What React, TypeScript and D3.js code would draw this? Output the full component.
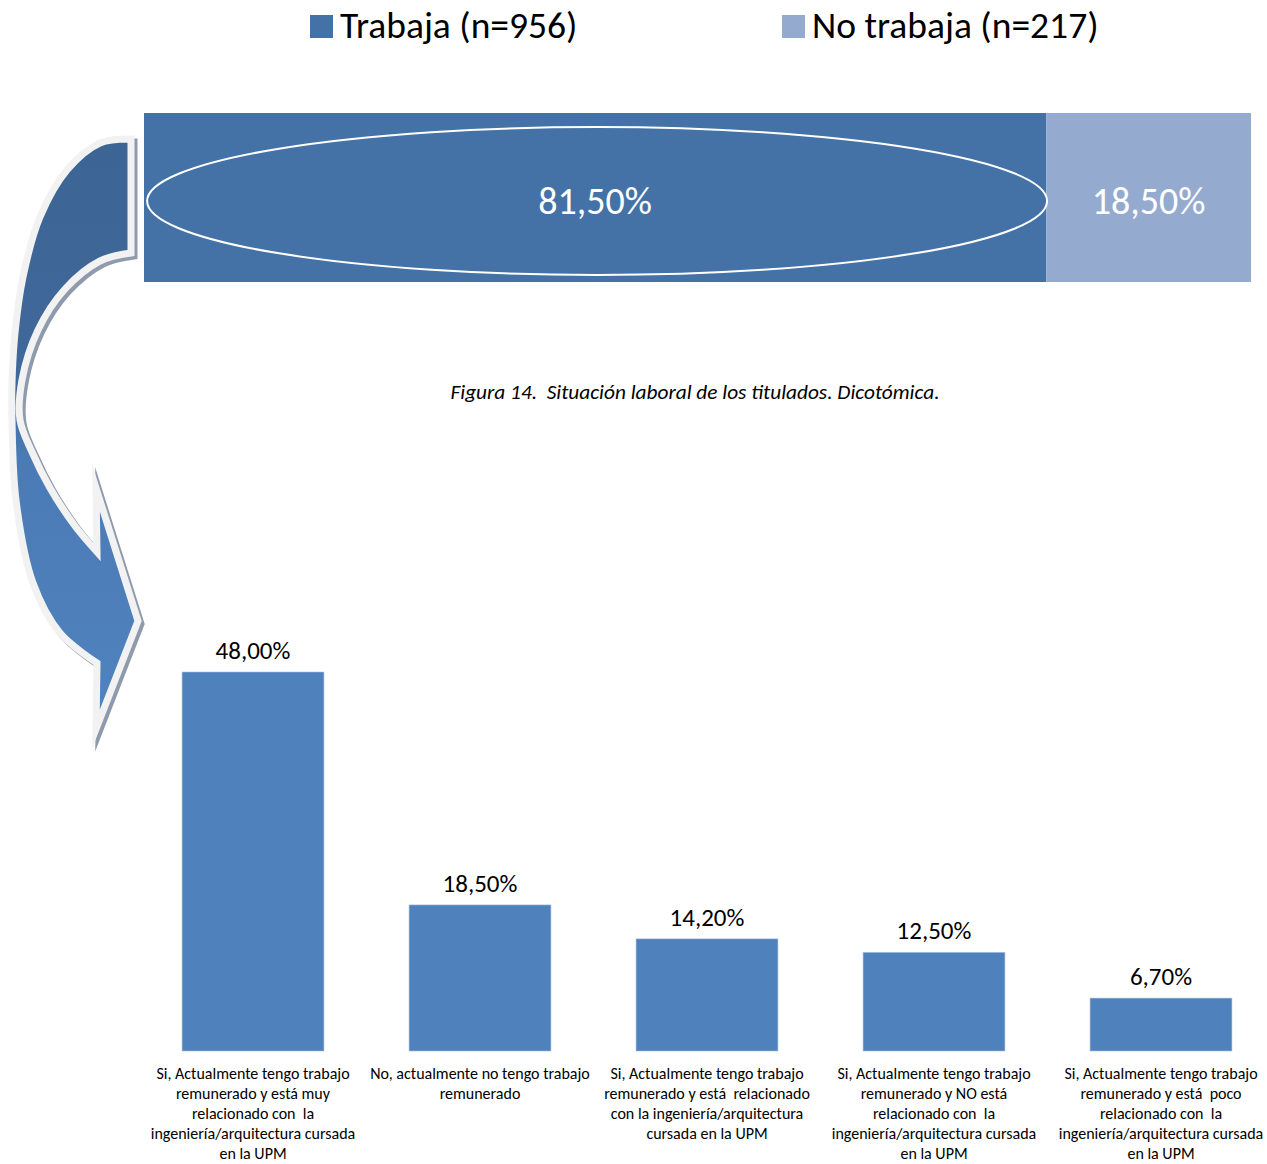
import React from "react";
import * as d3 from "d3";

const topCategories = ["Trabaja (n=956)", "No trabaja (n=217)"];
const topValues = [81.5, 18.5];
const topColors = ["#4472A6", "#95AACF"];

const bottomCategories = [
  "Si, Actualmente tengo trabajo\nremunerado y está muy\nrelacionado con  la\ningeniería/arquitectura cursada\nen la UPM",
  "No, actualmente no tengo trabajo\nremunerado",
  "Si, Actualmente tengo trabajo\nremunerado y está  relacionado\ncon la ingeniería/arquitectura\ncursada en la UPM",
  "Si, Actualmente tengo trabajo\nremunerado y NO está\nrelacionado con  la\ningeniería/arquitectura cursada\nen la UPM",
  "Si, Actualmente tengo trabajo\nremunerado y está  poco\nrelacionado con  la\ningeniería/arquitectura cursada\nen la UPM",
];
const bottomValues = [48.0, 18.5, 14.2, 12.5, 6.7];

const caption = "Figura 14.  Situación laboral de los titulados. Dicotómica.";

const W = 1267;
const H = 1164;
const FONT = "Carlito, Calibri, Lato, 'Open Sans', sans-serif";

const fmt = (v: number) => v.toFixed(2).replace(".", ",") + "%";

// decorative curved arrow outline
const outerPts: [number, number][] = [
  [131, 139], [100, 143], [67, 170], [40, 217], [23, 277], [15, 333], [12, 383],
  [12, 420], [16, 500], [33, 583], [60, 633], [97, 663],
];
const innerPts: [number, number][] = [
  [97, 552], [75, 526], [50, 488], [32, 452], [20, 420], [22, 380], [38, 330],
  [65, 289], [100, 261], [131, 253],
];

function arrowPath(): string {
  const line = d3.line().curve(d3.curveCatmullRom.alpha(0.5));
  const outer = line(outerPts) as string;
  const inner = (line(innerPts) as string).replace(/^M/, "L");
  return outer + " L96,729 L138,621 L96,488 " + inner + " Z";
}

export default function App() {
  const xTop = d3.scaleLinear().domain([0, 100]).range([144, 1251]);
  const topY0 = 113;
  const topY1 = 282;
  const cum = d3.cumsum(topValues);
  const segs = topValues.map((v, i) => ({
    x0: xTop(cum[i] - v),
    x1: xTop(cum[i]),
    v,
    c: topColors[i],
  }));

  const xb = d3
    .scaleBand<string>()
    .domain(bottomCategories)
    .range([139.5, 1274.5])
    .paddingInner(0.375)
    .paddingOuter(0.1875);
  const yb = d3.scaleLinear().domain([0, 48]).range([1051, 672]);

  const legendX = [310, 782];
  const d = arrowPath();

  return (
    <svg
      width={W}
      height={H}
      style={{ position: "absolute", left: 0, top: 0, background: "#fff" }}
      fontFamily={FONT}
    >
      <defs>
        <linearGradient id="arrowGrad" gradientUnits="userSpaceOnUse" x1="0" y1="130" x2="0" y2="760">
          <stop offset="0" stopColor="#3C6494" />
          <stop offset="0.42" stopColor="#40699B" />
          <stop offset="0.52" stopColor="#4B7BB5" />
          <stop offset="1" stopColor="#5083C0" />
        </linearGradient>
      </defs>

      {/* legend */}
      {topCategories.map((c, i) => (
        <g key={c}>
          <rect x={legendX[i]} y={15} width={23} height={23} fill={topColors[i]} />
          <text x={legendX[i] + 30} y={38} fontSize={37.5} fill="#000">
            {c}
          </text>
        </g>
      ))}

      {/* arrow */}
      <path d={d} transform="translate(3,3)" fill="none" stroke="#8F9BAD" strokeWidth={7} strokeLinejoin="miter" strokeMiterlimit={20} />
      <path d={d} fill="url(#arrowGrad)" stroke="#F2F2F2" strokeWidth={7} strokeLinejoin="miter" strokeMiterlimit={20} />

      {/* top stacked bar */}
      {segs.map((s, i) => (
        <rect key={i} x={s.x0} y={topY0} width={s.x1 - s.x0} height={topY1 - topY0} fill={s.c} />
      ))}
      <ellipse
        cx={(segs[0].x0 + segs[0].x1) / 2 + 2}
        cy={201}
        rx={450}
        ry={74}
        fill="none"
        stroke="#fff"
        strokeWidth={2}
      />
      {segs.map((s, i) => (
        <text
          key={"t" + i}
          x={(s.x0 + s.x1) / 2}
          y={214}
          textAnchor="middle"
          fontSize={38}
          fill="#fff"
        >
          {fmt(s.v)}
        </text>
      ))}

      {/* caption */}
      <text x={695} y={399} textAnchor="middle" fontSize={21.3} fontStyle="italic" fill="#000" style={{ whiteSpace: "pre" }}>
        {caption}
      </text>

      {/* bottom bars */}
      {bottomCategories.map((c, i) => {
        const x = xb(c) as number;
        const w = xb.bandwidth();
        const y = yb(bottomValues[i]);
        return (
          <g key={"b" + i}>
            <rect x={x} y={y} width={w} height={yb(0) - y} fill="#4F81BD" stroke="#A7BFDE" strokeWidth={0.6} />
            <text x={x + w / 2} y={y - 13} textAnchor="middle" fontSize={25} fill="#000">
              {fmt(bottomValues[i])}
            </text>
            {c.split("\n").map((ln, j) => (
              <text
                key={j}
                x={x + w / 2}
                y={1079 + j * 20}
                textAnchor="middle"
                fontSize={16}
                fill="#000"
                style={{ whiteSpace: "pre" }}
              >
                {ln}
              </text>
            ))}
          </g>
        );
      })}
    </svg>
  );
}
